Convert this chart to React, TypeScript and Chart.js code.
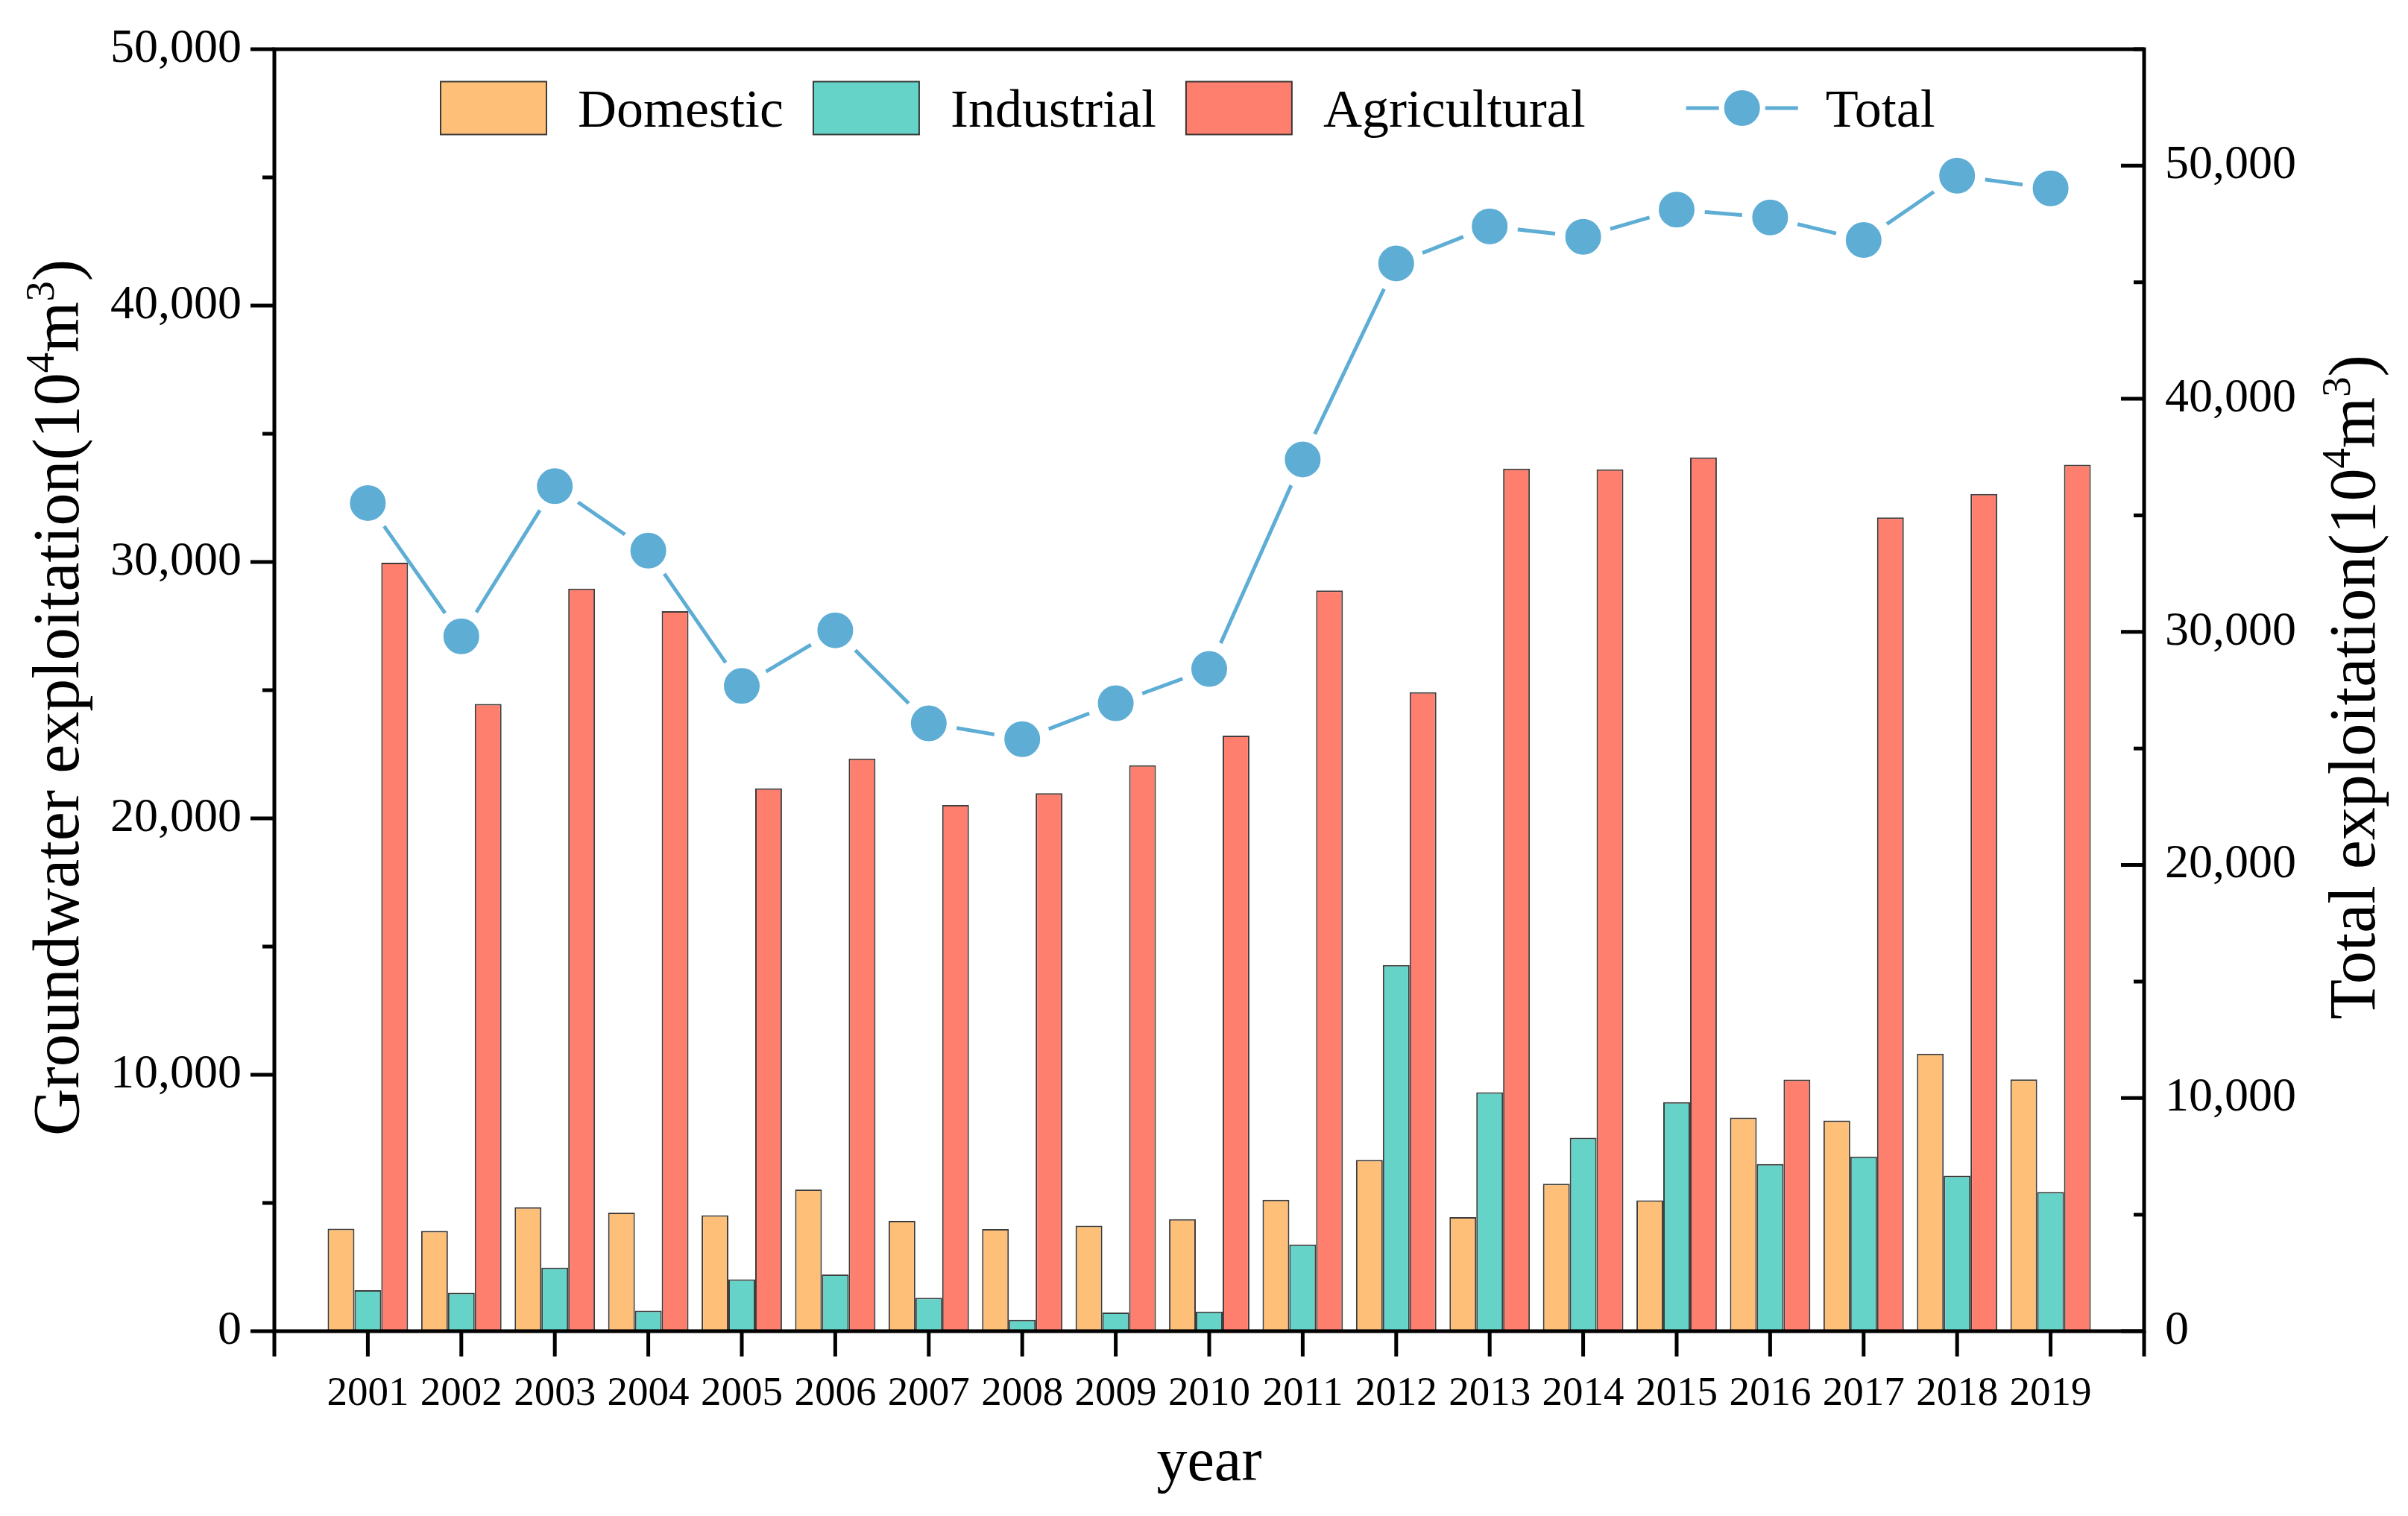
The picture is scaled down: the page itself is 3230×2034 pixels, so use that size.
import React, { useEffect, useRef } from 'react';
import { Chart, registerables } from 'chart.js';

Chart.register(...registerables);

// ---------------- data ----------------
const years = [2001, 2002, 2003, 2004, 2005, 2006, 2007, 2008, 2009, 2010, 2011, 2012, 2013, 2014, 2015, 2016, 2017, 2018, 2019];
const domestic = [4000, 3910, 4830, 4620, 4520, 5520, 4300, 3980, 4110, 4370, 5120, 6680, 4450, 5750, 5100, 8330, 8210, 10820, 9820];
const industrial = [1600, 1500, 2480, 800, 2020, 2210, 1300, 440, 730, 760, 3380, 14280, 9320, 7540, 8930, 6520, 6810, 6060, 5430];
const agricultural = [29970, 24460, 28960, 28080, 21170, 22330, 20520, 20980, 22070, 23230, 28890, 24920, 33640, 33610, 34080, 9810, 31740, 32650, 33790];
const total = [35530, 29810, 36250, 33490, 27680, 30070, 26080, 25400, 26940, 28410, 37400, 45810, 47400, 46950, 48120, 47780, 46810, 49570, 49030];

const seriesNames = ['Domestic', 'Industrial', 'Agricultural', 'Total'];
const leftAxisRange = [0, 50000];
const rightAxisRange = [0, 55000];
const xAxisRange = [2000, 2020];
const leftTickValues = [0, 10000, 20000, 30000, 40000, 50000];
const rightTickValues = [0, 10000, 20000, 30000, 40000, 50000];
const majorStep = 10000;
const minorStep = 5000;

const leftTitle = [{ t: 'Groundwater exploitation(10' }, { t: '4', sup: true }, { t: 'm' }, { t: '3', sup: true }, { t: ')' }];
const rightTitle = [{ t: 'Total exploitation(10' }, { t: '4', sup: true }, { t: 'm' }, { t: '3', sup: true }, { t: ')' }];
const xTitle = 'year';

// ---------------- style ----------------
const SERIF = '"Liberation Serif", "Times New Roman", serif';
const C_DOM = 'rgb(254,192,120)';
const C_IND = 'rgb(102,211,200)';
const C_AGR = 'rgb(255,127,110)';
const C_TOT = 'rgb(94,173,213)';
const BAR_EDGE = 'rgba(40,40,40,0.9)';

type Seg = { t: string; sup?: boolean };

function drawRich(ctx: CanvasRenderingContext2D, segs: Seg[], size: number, family: string) {
  const supSize = size * 0.62;
  const widths = segs.map((s) => {
    ctx.font = `${s.sup ? supSize : size}px ${family}`;
    return ctx.measureText(s.t).width;
  });
  const totalW = widths.reduce((a, b) => a + b, 0);
  let x = -totalW / 2;
  ctx.textAlign = 'left';
  ctx.textBaseline = 'alphabetic';
  segs.forEach((s, i) => {
    ctx.font = `${s.sup ? supSize : size}px ${family}`;
    ctx.fillText(s.t, x, s.sup ? -size * 0.38 : 0);
    x += widths[i];
  });
}

const decorPlugin = {
  id: 'decor',
  afterDraw(chart: any) {
    const { ctx, chartArea: a, scales } = chart;
    const xs = scales.x;
    const yl = scales.y;
    const yr = scales.y1;
    ctx.save();
    ctx.strokeStyle = '#000';
    ctx.lineWidth = 5;
    ctx.lineCap = 'butt';
    ctx.strokeRect(a.left, a.top, a.right - a.left, a.bottom - a.top);

    ctx.beginPath();
    for (let v = leftAxisRange[0]; v <= leftAxisRange[1]; v += minorStep) {
      const py = yl.getPixelForValue(v);
      const len = v % majorStep === 0 ? 32 : 16;
      ctx.moveTo(a.left, py);
      ctx.lineTo(a.left - len, py);
    }
    for (let v = rightAxisRange[0]; v <= rightAxisRange[1]; v += minorStep) {
      const py = yr.getPixelForValue(v);
      const len = v % majorStep === 0 ? 31 : 14;
      ctx.moveTo(a.right, py);
      ctx.lineTo(a.right - len, py);
    }
    for (let v = xAxisRange[0]; v <= xAxisRange[1]; v += 1) {
      const px = xs.getPixelForValue(v);
      ctx.moveTo(px, a.bottom);
      ctx.lineTo(px, a.bottom + 34);
    }
    ctx.stroke();

    // axis titles
    ctx.fillStyle = '#000';
    const midY = (a.top + a.bottom) / 2;
    ctx.save();
    ctx.translate(105, midY + 10);
    ctx.rotate(-Math.PI / 2);
    drawRich(ctx, leftTitle, 88, SERIF);
    ctx.restore();

    ctx.save();
    ctx.translate(a.right + 309, midY - 4);
    ctx.rotate(-Math.PI / 2);
    drawRich(ctx, rightTitle, 88, SERIF);
    ctx.restore();

    ctx.font = `82px ${SERIF}`;
    ctx.textAlign = 'center';
    ctx.textBaseline = 'alphabetic';
    ctx.fillText(xTitle, (a.left + a.right) / 2, 1986);

    // legend
    const colors = [C_DOM, C_IND, C_AGR];
    const boxW = 142;
    const boxH = 71;
    const cy = 145;
    ctx.font = `72px ${SERIF}`;
    ctx.textAlign = 'left';
    ctx.textBaseline = 'alphabetic';
    let lx = 591;
    for (let i = 0; i < 3; i++) {
      ctx.fillStyle = colors[i];
      ctx.fillRect(lx, cy - boxH / 2, boxW, boxH);
      ctx.lineWidth = 2;
      ctx.strokeStyle = BAR_EDGE;
      ctx.strokeRect(lx, cy - boxH / 2, boxW, boxH);
      ctx.fillStyle = '#000';
      const tx = lx + boxW + 42;
      ctx.fillText(seriesNames[i], tx, cy + 25);
      lx = tx + ctx.measureText(seriesNames[i]).width + 40;
    }
    // Total item
    const lineStart = lx + 95;
    const lineEnd = lineStart + 150;
    const cx = (lineStart + lineEnd) / 2;
    ctx.strokeStyle = C_TOT;
    ctx.lineWidth = 5;
    ctx.beginPath();
    ctx.moveTo(lineStart, cy);
    ctx.lineTo(cx - 31, cy);
    ctx.moveTo(cx + 31, cy);
    ctx.lineTo(lineEnd, cy);
    ctx.stroke();
    ctx.fillStyle = C_TOT;
    ctx.beginPath();
    ctx.arc(cx, cy, 24, 0, Math.PI * 2);
    ctx.fill();
    ctx.fillStyle = '#000';
    ctx.fillText(seriesNames[3], lineEnd + 37, cy + 25);

    ctx.restore();
  },
};

export default function App() {
  const ref = useRef<HTMLCanvasElement>(null);

  useEffect(() => {
    const canvas = ref.current;
    if (!canvas) return;
    const toXY = (vals: number[]) => years.map((yr, i) => ({ x: yr, y: vals[i] }));
    const barCommon = {
      type: 'bar' as const,
      yAxisID: 'y',
      categoryPercentage: 0.86,
      barPercentage: 1.0,
      borderWidth: 2,
      borderColor: BAR_EDGE,
      order: 1,
    };
    const chart = new Chart(canvas, {
      type: 'bar',
      data: {
        datasets: [
          { ...barCommon, label: seriesNames[0], data: toXY(domestic), backgroundColor: C_DOM },
          { ...barCommon, label: seriesNames[1], data: toXY(industrial), backgroundColor: C_IND },
          { ...barCommon, label: seriesNames[2], data: toXY(agricultural), backgroundColor: C_AGR },
          {
            type: 'line',
            label: seriesNames[3],
            data: toXY(total),
            yAxisID: 'y1',
            borderColor: C_TOT,
            borderWidth: 5,
            backgroundColor: C_TOT,
            pointBackgroundColor: C_TOT,
            pointBorderColor: '#ffffff',
            pointBorderWidth: 14,
            pointRadius: 31,
            tension: 0,
            fill: false,
            order: 0,
          } as any,
        ],
      },
      options: {
        responsive: true,
        maintainAspectRatio: false,
        devicePixelRatio: 1,
        animation: false,
        events: [],
        layout: { padding: { top: 66, left: 0, right: 0, bottom: 0 } },
        plugins: {
          legend: { display: false },
          tooltip: { enabled: false },
          title: { display: false },
        },
        scales: {
          x: {
            type: 'linear',
            position: 'bottom',
            min: xAxisRange[0],
            max: xAxisRange[1],
            offset: false,
            grid: { display: false, drawTicks: false },
            border: { display: false },
            ticks: {
              stepSize: 1,
              autoSkip: false,
              maxRotation: 0,
              minRotation: 0,
              padding: 52,
              color: '#000',
              font: { family: SERIF, size: 55 },
              callback: (v: any) => {
                const n = Number(v);
                return n === xAxisRange[0] || n === xAxisRange[1] ? '' : String(n);
              },
            },
            afterFit: (s: any) => {
              s.height = 248;
              s.paddingLeft = 0;
              s.paddingRight = 0;
            },
          },
          y: {
            type: 'linear',
            position: 'left',
            min: leftAxisRange[0],
            max: leftAxisRange[1],
            grid: { display: false, drawTicks: false },
            border: { display: false },
            afterBuildTicks: (s: any) => {
              s.ticks = leftTickValues.map((v) => ({ value: v }));
            },
            ticks: {
              padding: 44,
              color: '#000',
              font: { family: SERIF, size: 64 },
              callback: (v: any) => Number(v).toLocaleString('en-US'),
            },
            afterFit: (s: any) => {
              s.width = 368;
              s.paddingTop = 0;
              s.paddingBottom = 0;
            },
          },
          y1: {
            type: 'linear',
            position: 'right',
            min: rightAxisRange[0],
            max: rightAxisRange[1],
            grid: { display: false, drawTicks: false },
            border: { display: false },
            afterBuildTicks: (s: any) => {
              s.ticks = rightTickValues.map((v) => ({ value: v }));
            },
            ticks: {
              padding: 28,
              color: '#000',
              font: { family: SERIF, size: 64 },
              callback: (v: any) => Number(v).toLocaleString('en-US'),
            },
            afterFit: (s: any) => {
              s.width = 354;
              s.paddingTop = 0;
              s.paddingBottom = 0;
            },
          },
        },
      },
      plugins: [decorPlugin],
    });
    return () => chart.destroy();
  }, []);

  return (
    <div style={{ position: 'fixed', left: 0, top: 0, width: '3230px', height: '2034px', background: '#fff' }}>
      <canvas ref={ref} />
    </div>
  );
}
